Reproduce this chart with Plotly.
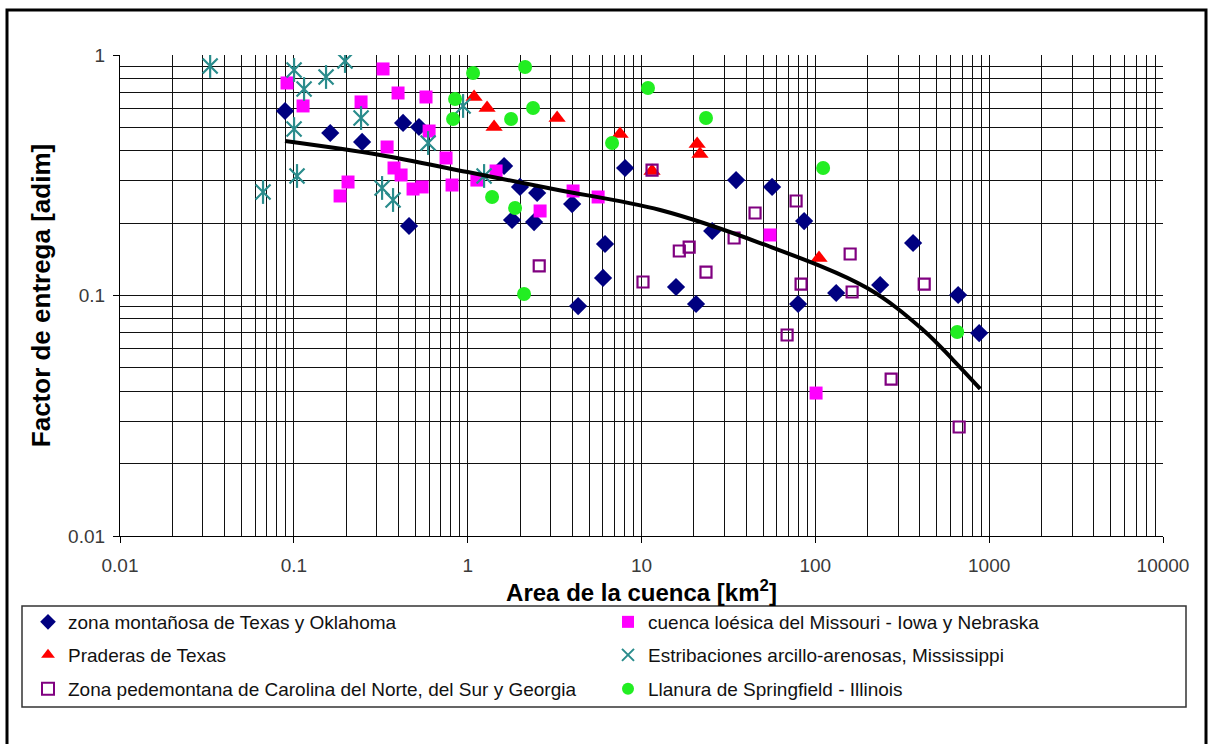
import plotly.graph_objects as go

# ---------------- data ----------------
mont_x = [0.089, 0.162, 0.247, 0.425, 0.525, 0.46, 1.62, 2.0, 1.80, 2.41, 2.51, 3.99, 4.32, 6.17, 6.01, 8.05,
          15.8, 20.6, 25.5, 35.0, 56.4, 86.2, 79.6, 131.8, 236, 365, 663, 876]
mont_y = [0.585, 0.474, 0.435, 0.522, 0.502, 0.1945, 0.3455, 0.2827, 0.206, 0.202, 0.267, 0.240, 0.0904, 0.1637,
          0.1183, 0.339, 0.1085, 0.0922, 0.1854, 0.302, 0.2827, 0.204, 0.0922, 0.1024, 0.1106, 0.1653, 0.1005, 0.0698]

loes_x = [0.0914, 0.113, 0.326, 0.2436, 0.3977, 0.576, 0.600, 0.344, 0.377, 0.414, 0.1845, 0.205, 0.485, 0.547,
          0.751, 0.813, 1.13, 1.457, 2.61, 4.04, 5.63, 54.9, 101]
loes_y = [0.765, 0.614, 0.875, 0.638, 0.695, 0.669, 0.483, 0.4144, 0.339, 0.317, 0.2593, 0.2964, 0.2772, 0.2827,
          0.373, 0.288, 0.302, 0.3294, 0.2246, 0.272, 0.2568, 0.1785, 0.0393]

prad_x = [1.089, 1.293, 1.419, 3.27, 7.53, 11.5, 20.9, 21.7, 105]
prad_y = [0.669, 0.602, 0.502, 0.547, 0.469, 0.3294, 0.4266, 0.3876, 0.1432]

estr_x = [0.0330, 0.0665, 0.1003, 0.1145, 0.1532, 0.197, 0.1003, 0.1043, 0.2436, 0.3218, 0.3722, 0.592, 0.941, 1.243]
estr_y = [0.900, 0.2694, 0.866, 0.722, 0.810, 0.944, 0.492, 0.314, 0.547, 0.280, 0.2495, 0.4306, 0.614, 0.314]

pied_x = [11.5, 10.2, 2.58, 16.5, 18.8, 23.5, 34.1, 45.0, 77.5, 82.8, 68.8, 158.6, 162.8, 273, 423, 672]
pied_y = [0.3324, 0.1138, 0.1327, 0.1531, 0.159, 0.1252, 0.1734, 0.2203, 0.2471, 0.1116, 0.0685, 0.1488, 0.1034,
          0.0449, 0.1116, 0.0284]

llan_x = [1.074, 2.14, 0.846, 0.824, 1.777, 2.378, 1.382, 1.874, 2.11, 10.9, 6.77, 23.5, 110.9, 655]
llan_y = [0.842, 0.891, 0.656, 0.542, 0.542, 0.602, 0.2568, 0.231, 0.1015, 0.729, 0.4306, 0.547, 0.339, 0.0705]

curve_x = [0.089, 0.313, 1.0, 3.10, 12.8, 48.1, 198.7, 417, 621, 888]
curve_y = [0.439, 0.384, 0.326, 0.2772, 0.2267, 0.1653, 0.1074, 0.0719, 0.0539, 0.0409]

names = ["zona montañosa de Texas y Oklahoma",
         "cuenca loésica del Missouri - Iowa y Nebraska",
         "Praderas de Texas",
         "Estribaciones arcillo-arenosas, Mississippi",
         "Zona pedemontana de Carolina del Norte, del Sur y Georgia",
         "Llanura de Springfield - Illinois"]

x_ticks = [0.01, 0.1, 1, 10, 100, 1000, 10000]
x_ticklabels = ["0.01", "0.1", "1", "10", "100", "1000", "10000"]
y_ticks = [0.01, 0.1, 1]
y_ticklabels = ["0.01", "0.1", "1"]

# ---------------- layout helpers ----------------
W, H = 1208, 744
L, R, T, B = 120, 45, 55, 208
PW, PH = W - L - R, H - T - B


def px2paper_x(px):
    return (px - L) / PW


def px2paper_y(py):
    return (H - B - py) / PH


FONT = "Liberation Sans, Arial, sans-serif"

fig = go.Figure()

fig.add_trace(go.Scatter(x=mont_x, y=mont_y, mode="markers", name=names[0], legend="legend",
                         marker=dict(symbol="diamond", size=14, color="#000080")))
fig.add_trace(go.Scatter(x=loes_x, y=loes_y, mode="markers", name=names[1], legend="legend2",
                         marker=dict(symbol="square", size=13, color="#FF00FF")))
fig.add_trace(go.Scatter(x=prad_x, y=prad_y, mode="markers", name=names[2], legend="legend3",
                         marker=dict(symbol="triangle-up", size=15, color="#FF0000")))
fig.add_trace(go.Scatter(x=estr_x, y=estr_y, mode="markers", name=names[3], legend="legend4",
                         legendgroup="estr",
                         marker=dict(symbol="x-thin-open", size=15, color="#2A8C8C",
                                     line=dict(width=2.2, color="#2A8C8C"))))
fig.add_trace(go.Scatter(x=estr_x, y=estr_y, mode="markers", name=names[3], legend="legend4",
                         legendgroup="estr", showlegend=False,
                         marker=dict(symbol="line-ns-open", size=17, color="#2A8C8C",
                                     line=dict(width=2.2, color="#2A8C8C"))))
fig.add_trace(go.Scatter(x=pied_x, y=pied_y, mode="markers", name=names[4], legend="legend5",
                         marker=dict(symbol="square-open", size=11, color="#800080",
                                     line=dict(width=2.2, color="#800080"))))
fig.add_trace(go.Scatter(x=llan_x, y=llan_y, mode="markers", name=names[5], legend="legend6",
                         marker=dict(symbol="circle", size=14, color="#22EE22")))
fig.add_trace(go.Scatter(x=curve_x, y=curve_y, mode="lines", showlegend=False,
                         line=dict(color="black", width=4, shape="spline", smoothing=1.0)))

axis_common = dict(type="log", showline=True, linecolor="black", linewidth=1.2,
                   showgrid=True, gridcolor="#111111", gridwidth=1, zeroline=False,
                   ticks="outside", ticklen=6, tickcolor="black", tickwidth=1,
                   tickfont=dict(family=FONT, size=19, color="#3a3a3a"),
                   mirror=False)

fig.update_xaxes(**axis_common, range=[-2, 4], tickvals=x_ticks, ticktext=x_ticklabels,
                 ticklabelstandoff=6,
                 minor=dict(showgrid=True, gridcolor="#111111", gridwidth=1, ticks="", dtick="D1"),
                 title=dict(text="<b>Area de la cuenca [km<sup>2</sup>]</b>",
                            font=dict(family=FONT, size=24, color="black"), standoff=0))
fig.update_yaxes(**axis_common, range=[-2, 0], tickvals=y_ticks, ticktext=y_ticklabels,
                 ticklabelstandoff=4,
                 minor=dict(showgrid=True, gridcolor="#111111", gridwidth=1, ticks="", dtick="D1"),
                 title=dict(text="<b>Factor de entrega [adim]</b>",
                            font=dict(family=FONT, size=26, color="black"), standoff=10))

legend_style = dict(bgcolor="rgba(0,0,0,0)", borderwidth=0, orientation="v",
                    font=dict(family=FONT, size=19, color="#111111"),
                    xanchor="left", yanchor="middle", itemsizing="constant")
col_x = [px2paper_x(28), px2paper_x(608)]
row_y = [px2paper_y(622), px2paper_y(655), px2paper_y(689)]
legend_layout = {}
keys = ["legend", "legend2", "legend3", "legend4", "legend5", "legend6"]
for i, k in enumerate(keys):
    legend_layout[k] = dict(legend_style, x=col_x[i % 2], y=row_y[i // 2])

fig.update_layout(
    width=W, height=H,
    margin=dict(l=L, r=R, t=T, b=B, autoexpand=False),
    paper_bgcolor="white", plot_bgcolor="white",
    font=dict(family=FONT, size=16, color="#222222"),
    showlegend=True,
    **legend_layout,
)

# legend frame and outer frame (decoration)
fig.add_shape(type="rect", xref="paper", yref="paper",
              x0=px2paper_x(22), x1=px2paper_x(1186), y0=px2paper_y(707), y1=px2paper_y(606),
              line=dict(color="#333333", width=1.5), fillcolor="rgba(0,0,0,0)", layer="above")
fig.add_shape(type="rect", xref="paper", yref="paper",
              x0=px2paper_x(7), x1=px2paper_x(1206), y0=px2paper_y(760), y1=px2paper_y(10),
              line=dict(color="black", width=3), fillcolor="rgba(0,0,0,0)", layer="above")

fig.write_html("out.html")
